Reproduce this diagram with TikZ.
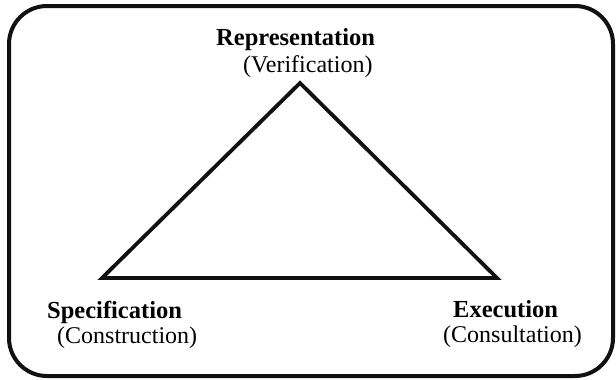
\documentclass[tikz,border=0pt]{standalone}
\usepackage{fontspec}
\setmainfont{Liberation Serif}
\usepackage{tikz}
\definecolor{frameblk}{HTML}{111111}

\begin{document}
\begin{tikzpicture}[x=1pt,y=-1pt,
    font=\fontsize{24}{27}\selectfont,
    headlbl/.style={anchor=base west,inner sep=0pt,font=\fontsize{24.5}{27}\selectfont\bfseries},
    sublbl/.style={anchor=base west,inner sep=0pt},
    edge/.style={line width=3.8pt,frameblk}]
  \useasboundingbox (0,0) rectangle (616,380);
  % ---- outer frame ----
  \draw[line width=4pt,frameblk,rounded corners=38pt] (9,6) rectangle (613,376);
  % ---- triangle corners ----
  \coordinate (top) at (300,83);
  \coordinate (lft) at (102,278);
  \coordinate (rgt) at (497,278);
  \draw[edge] (top) -- (lft) -- (rgt) -- cycle;
  % ---- labels ----
  \node[headlbl] (rep) at (216,45) {Representation};
  \node[sublbl] (ver) at (243,72) {(Verification)};
  \node[headlbl] (spec) at (47,318) {Specification};
  \node[sublbl] (cons) at (57,343) {(Construction)};
  \node[headlbl] (exe) at (453,317) {Execution};
  \node[sublbl] (cnsl) at (443,342) {(Consultation)};
\end{tikzpicture}
\end{document}
